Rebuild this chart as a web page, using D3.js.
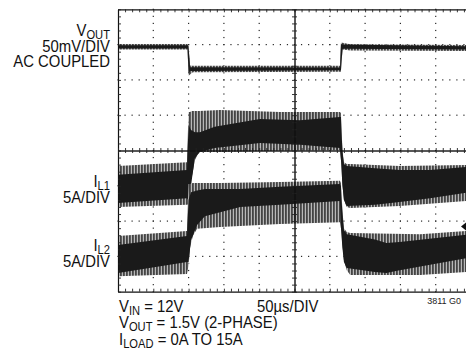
<!DOCTYPE html>
<html><head><meta charset="utf-8">
<script src="https://cdn.jsdelivr.net/npm/d3@7"></script>
<style>body{margin:0;background:#fff} svg{display:block}</style>
</head><body>
<script>
// ---- data (time in µs, 50µs/DIV; amplitude in screen divisions, centre = 0) ----
const timeDomain = [0, 500];
const divDomain = [-4, 4];
// VOUT trace envelope: [t, low, high]
const voutOuter = [[0,2.86,3.02],[98.5,2.86,3.02],[99.9,2.12,2.93],[102,2.15,2.41],[106,2.22,2.40],[314.6,2.23,2.40],[315.8,2.23,3.05],[318,2.86,3.05],[329,2.83,3.01],[500,2.82,2.99]];
const voutCore  = [[0,2.89,2.98],[98.5,2.89,2.98],[99.9,2.18,2.96],[102,2.25,2.36],[314.6,2.27,2.35],[315.8,2.27,3.02],[318,2.88,3.00],[500,2.86,2.95]];
// I_L1 ripple envelope and dense core: [t, low, high]
const il1Outer = [[0,-1.60,-0.44],[97.7,-1.54,-0.33],[99.9,-1.52,1.09],[102,-1.40,1.09],[104.8,-0.72,1.12],[109,-0.27,1.12],[114.7,-0.04,1.12],[144.5,-0.04,1.15],[229.5,-0.01,1.09],[314.4,0.01,1.09],[315.8,-0.27,1.06],[317.9,-0.98,0.01],[320,-1.40,-0.33],[324,-1.60,-0.38],[329,-1.63,-0.38],[399,-1.57,-0.44],[493,-1.43,-0.41],[500,-1.43,-0.41]];
const il1Core  = [[0,-1.49,-0.69],[97.7,-1.35,-0.55],[99.9,-1.40,0.72],[103.4,-0.98,0.58],[109,-0.21,0.52],[116,-0.04,0.52],[137,0.07,0.67],[201,0.21,0.89],[258,0.16,0.86],[314.4,0.07,0.95],[315.8,-0.27,0.95],[317.9,-0.98,-0.04],[320,-1.40,-0.38],[324,-1.57,-0.44],[364,-1.54,-0.50],[399,-1.46,-0.55],[442,-1.35,-0.55],[493,-1.20,-0.47],[500,-1.20,-0.47]];
// I_L2 ripple envelope and dense core: [t, low, high]
const il2Outer = [[0,-3.56,-2.42],[97.7,-3.50,-2.28],[99.9,-3.27,-0.95],[102,-2.76,-0.95],[106,-2.42,-0.92],[112,-2.22,-0.92],[144.5,-2.17,-0.92],[229.5,-2.08,-0.89],[314.4,-2.03,-0.86],[315.8,-2.20,-0.92],[317.9,-2.68,-1.69],[320,-3.10,-2.20],[324,-3.39,-2.31],[329,-3.53,-2.34],[428,-3.53,-2.37],[493,-3.44,-2.28],[500,-3.44,-2.28]];
const il2Core  = [[0,-3.47,-2.68],[97.7,-3.16,-2.42],[99.9,-3.16,-1.40],[103.4,-2.54,-1.18],[112,-2.11,-1.13],[123,-1.86,-1.09],[173,-1.60,-1.09],[229.5,-1.54,-1.03],[314.4,-1.43,-0.95],[315.8,-2.20,-1.01],[317.9,-2.76,-1.83],[320,-3.16,-2.25],[324,-3.33,-2.37],[364,-3.44,-2.52],[380,-3.47,-2.62],[399,-3.39,-2.59],[493,-3.05,-2.39],[500,-3.05,-2.39]];
const groundMarker = -2.15;
// label blocks: lines of [text, isSubscript] parts
const voutLabel = {y:36.3, lines:[[["V"],["OUT",1]], [["50mV/DIV"]], [["AC COUPLED"]]], lead:[0,16,14.4]};
const il1Label  = {y:186.5, lines:[[["I"],["L1",1]], [["5A/DIV"]]], lead:[0,16.5]};
const il2Label  = {y:250.5, lines:[[["I"],["L2",1]], [["5A/DIV"]]], lead:[0,16.5]};
const condLabel = {y:311.5, lines:[[["V"],["IN",1],[" = 12V"]], [["V"],["OUT",1],[" = 1.5V (2-PHASE)"]], [["I"],["LOAD",1],[" = 0A TO 15A"]]], lead:[0,17,17]};
const sweepLabel = "50µs/DIV";
const figId = "3811 G0";

// ---- drawing ----
const W = 466, H = 362;
const svg = d3.select("body").append("svg").attr("width", W).attr("height", H);
const x = d3.scaleLinear().domain(timeDomain).range([118, 471]);
const y = d3.scaleLinear().domain(divDomain).range([291.7, 9.3]);
const FONT = "'Liberation Sans', Arial, sans-serif";

const defs = svg.append("defs");
const pat = defs.append("pattern").attr("id","rip").attr("patternUnits","userSpaceOnUse")
  .attr("width",3).attr("height",10);
pat.append("rect").attr("width",3).attr("height",10).attr("fill","#b8b8b8");
pat.append("rect").attr("width",1.8).attr("height",10).attr("fill","#444");
defs.append("clipPath").attr("id","plot").append("rect")
  .attr("x",118).attr("y",9.3).attr("width",353).attr("height",282.4);

const minorT = d3.range(0, 500.001, 10);
const minorV = d3.range(-4, 4.0001, 0.2).map(v => +v.toFixed(2));
const majorT = d3.range(50, 451, 50).filter(t => t !== 250);
const majorV = d3.range(-3, 4, 1).filter(v => v !== 0);

// dotted graticule
const grid = svg.append("g").attr("fill","#2a2a2a");
majorT.forEach(t => minorV.forEach(v => grid.append("rect")
  .attr("x", x(t)-0.6).attr("y", y(v)-0.6).attr("width",1.2).attr("height",1.2)));
majorV.forEach(v => minorT.forEach(t => grid.append("rect")
  .attr("x", x(t)-0.6).attr("y", y(v)-0.6).attr("width",1.2).attr("height",1.2)));

// traces
const area = d3.area().x(d => x(d[0])).y0(d => y(d[1])).y1(d => y(d[2]));
const tr = svg.append("g").attr("clip-path","url(#plot)");
[[voutOuter,voutCore],[il1Outer,il1Core],[il2Outer,il2Core]].forEach(([o,c]) => {
  tr.append("path").attr("d", area(o)).attr("fill","url(#rip)");
  tr.append("path").attr("d", area(c)).attr("fill","#1a1a1a");
});

// frame and centre axes with minor ticks
function ax(gen, tx, ty, vals, size, sw) {
  const g = svg.append("g").attr("transform", `translate(${tx},${ty})`)
    .call(gen.tickValues(vals).tickSize(size).tickSizeOuter(0).tickFormat(""));
  g.selectAll("path.domain").attr("stroke","#111").attr("stroke-width",sw);
  g.selectAll(".tick line").attr("stroke","#222").attr("stroke-width",0.9);
  return g;
}
ax(d3.axisTop(x), 0, y(-4), minorT, 3, 1.2);
ax(d3.axisBottom(x), 0, y(4), minorT, 3, 1.2);
ax(d3.axisRight(y), x(0), 0, minorV, 3, 1.2);
ax(d3.axisTop(x), 0, y(0), minorT, 2.5, 0.9);
ax(d3.axisBottom(x), 0, y(0), minorT, 2.5, 0.9);
ax(d3.axisLeft(y), x(250), 0, minorV, 2.5, 0.9);
ax(d3.axisRight(y), x(250), 0, minorV, 2.5, 0.9);

// ground reference marker at right edge
const gy = y(groundMarker);
svg.append("path").attr("d", `M${W-5},${gy} L${W},${gy-4} L${W},${gy+4} Z`).attr("fill","#111");

// labels (one text block per label, lines as tspans)
function block(px, lbl, anchor) {
  const g = svg.append("g").attr("transform", `translate(${px},${lbl.y}) scale(0.93,1)`);
  const t = g.append("text").attr("text-anchor",anchor)
    .attr("font-family",FONT).attr("font-size",16).attr("fill","#111");
  let shift = 0;
  lbl.lines.forEach((parts, i) => {
    parts.forEach(([s, sub], j) => {
      const ts = t.append("tspan").text(s);
      let dy = 0;
      if (j === 0) { ts.attr("x", 0); dy = lbl.lead[i] - shift; shift = 0; }
      if (sub) { ts.attr("font-size",12); dy += 3; shift += 3; }
      else if (shift && j > 0) { dy -= shift; shift = 0; }
      if (dy) ts.attr("dy", dy);
    });
  });
}
block(110, voutLabel, "end");
block(110, il1Label, "end");
block(110, il2Label, "end");
block(119, condLabel, "start");
svg.append("g").attr("transform","translate(257,311.5) scale(0.93,1)").append("text")
  .attr("font-family",FONT).attr("font-size",16).attr("fill","#111").text(sweepLabel);
svg.append("text").attr("x",461).attr("y",304).attr("text-anchor","end")
  .attr("font-family",FONT).attr("font-size",9).attr("fill","#222").text(figId);
</script>
</body></html>
